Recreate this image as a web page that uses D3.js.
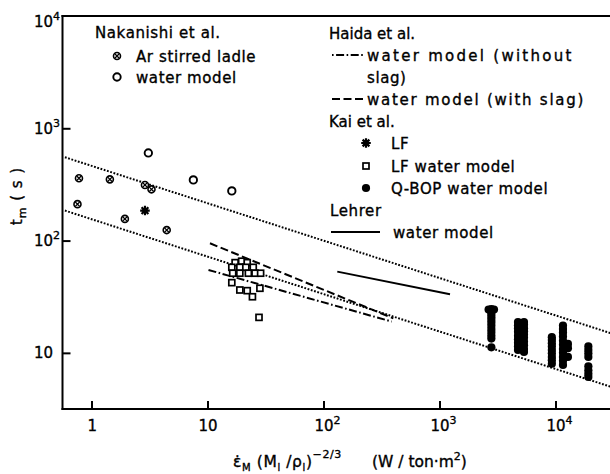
<!DOCTYPE html>
<html>
<head>
<meta charset="utf-8">
<script src="https://cdn.jsdelivr.net/npm/d3@7"></script>
<style>
  html, body { margin: 0; padding: 0; background: #fff; }
  svg { display: block; font-family: "DejaVu Sans", sans-serif; }
  .txt { fill: #000; stroke: #000; stroke-width: 0.35px; }
</style>
</head>
<body>
<svg id="chart" width="610" height="474"></svg>
<script>
// ---- data: [specific stirring power, mixing time t_m (s)] ----
// Nakanishi et al.
const arStirredLadle = [[0.78, 359], [1.44, 351], [2.89, 313], [3.29, 286], [0.757, 211], [1.94, 156], [4.45, 124]];
const nakanishiWater = [[3.09, 603], [7.55, 347], [16.2, 277]];
// Kai et al.
const kaiLF = [[2.89, 185]];
const kaiLFWater = [
  [17.3, 63.6], [19.7, 65.5], [22.0, 63.6],
  [16.2, 57.8], [19.0, 57.8], [21.4, 57.8], [24.8, 57.8],
  [16.5, 51.2], [19.0, 51.2], [22.5, 51.2], [25.7, 51.2], [28.7, 51.2],
  [16.2, 42.2], [19.0, 36.3], [22.0, 35.8], [28.3, 37.6], [24.4, 31.6],
  [27.8, 20.7]
];
const kaiQBOP = [
  [2650, 24.3], [2950, 24.3],
  [2800, 24.5], [2800, 23.2], [2800, 22.0], [2800, 20.8], [2800, 19.6], [2800, 18.5], [2800, 17.4],
  [2800, 16.3], [2800, 15.3], [2800, 14.3], [2800, 13.4], [2800, 11.2],
  [4750, 18.8], [4750, 17.6], [4750, 16.5], [4750, 15.4], [4750, 14.2], [4750, 13.2], [4750, 12.3],
  [4750, 11.4], [4750, 10.6],
  [5350, 18.8], [5350, 17.8], [5350, 16.6], [5350, 15.6], [5350, 14.6], [5350, 13.6], [5350, 12.6],
  [5350, 11.7], [5350, 10.8], [5350, 10.2],
  [9300, 13.8], [9300, 13.0], [9300, 12.2], [9300, 11.4], [9300, 10.6], [9300, 9.9], [9300, 9.2],
  [9300, 8.6], [9300, 8.0],
  [11600, 17.5], [11600, 16.3], [11600, 15.2], [11600, 14.0], [11600, 12.8], [11600, 11.8],
  [11600, 10.8], [11600, 10.0], [11600, 9.2], [11600, 8.5], [11600, 7.8],
  [12800, 12.0], [12800, 11.0], [12800, 9.2],
  [19200, 11.4], [19200, 10.6], [19200, 9.9], [19200, 9.2], [19200, 7.6], [19200, 7.0], [19200, 6.5], [19200, 6.1]
];
// Nakanishi et al. scatter band
const bandUpper = [[0.59, 552], [31600, 14.7]];
const bandLower = [[0.59, 185], [31600, 4.9]];
// Haida et al.
const haidaNoSlag = [[10.2, 54.7], [387, 19.0]];
const haidaSlag = [[10.5, 94.6], [400, 20.3]];
// Lehrer
const lehrerWater = [[131.5, 52.9], [1232, 33.2]];

// ---- axes ----
const xTickValues = [1, 10, 100, 1000, 10000];
const yTickValues = [10, 100, 1000, 10000];

const svg = d3.select("#chart");
const x = d3.scaleLog().domain([Math.pow(10, -0.25), Math.pow(10, 4.5)]).range([62.5, 613.5]);
const y = d3.scaleLog().domain([Math.pow(10, 0.5), 1e4]).range([409, 16]);

const lineGen = d3.line().x(d => x(d[0])).y(d => y(d[1]));

// frame
const frame = svg.append("g").attr("stroke", "#000").attr("stroke-width", 2).attr("fill", "none");
frame.append("line").attr("x1", x.range()[0]).attr("x2", x.range()[0]).attr("y1", y(1e4) - 1).attr("y2", y.range()[0] + 1);
frame.append("line").attr("x1", x.range()[0] - 1).attr("x2", 610).attr("y1", y.range()[0]).attr("y2", y.range()[0]);
frame.append("line").attr("x1", x.range()[0] - 1).attr("x2", 610).attr("y1", y(1e4)).attr("y2", y(1e4));

// x axis ticks (inward)
const xAxis = d3.axisBottom(x).tickValues(xTickValues).tickSize(-8).tickSizeOuter(0).tickFormat("");
const gx = svg.append("g").attr("transform", `translate(0,${y.range()[0]})`).call(xAxis);
gx.select(".domain").remove();
gx.selectAll(".tick line").attr("stroke", "#000").attr("stroke-width", 2);

// y axis ticks (inward)
const yAxis = d3.axisLeft(y).tickValues(yTickValues.filter(v => v < 1e4)).tickSize(-8).tickSizeOuter(0).tickFormat("");
const gy = svg.append("g").attr("transform", `translate(${x.range()[0]},0)`).call(yAxis);
gy.select(".domain").remove();
gy.selectAll(".tick line").attr("stroke", "#000").attr("stroke-width", 2);

// tick labels with superscript exponents
const tickFont = 15;
function powerLabel(sel, v) {
  const e = Math.round(Math.log10(v));
  if (e === 0) { sel.text("1"); return; }
  sel.append("tspan").text("10");
  if (e > 1) sel.append("tspan").attr("dy", -7).attr("font-size", 11).text(String(e));
}
xTickValues.forEach(v => {
  const t = svg.append("text").attr("class", "txt").attr("font-size", tickFont).attr("y", 431)
    .attr("x", x(v) - 9 + (v === 1 ? 5 : 0)).attr("text-anchor", "start");
  powerLabel(t, v);
});
yTickValues.forEach(v => {
  const t = svg.append("text").attr("class", "txt").attr("font-size", tickFont)
    .attr("y", y(v) + 5.5 + (v === 1e4 ? 5 : 0))
    .attr("x", 34).attr("text-anchor", "start");
  powerLabel(t, v);
});

// axis titles
const yTitle = svg.append("text").attr("class", "txt").attr("font-size", 15).attr("letter-spacing", 1)
  .attr("transform", "translate(22,196) rotate(-90)").attr("text-anchor", "middle");
yTitle.append("tspan").text("t");
yTitle.append("tspan").attr("font-size", 11).attr("dy", 4).text("m");
yTitle.append("tspan").attr("dy", -4).text("  ( s )");

const xTitle = svg.append("text").attr("class", "txt").attr("font-size", 15.5).attr("letter-spacing", 0.6)
  .attr("x", 233).attr("y", 467);
xTitle.append("tspan").text("\u03B5\u0307");
xTitle.append("tspan").attr("font-size", 10).attr("dy", 4).text("M");
xTitle.append("tspan").attr("dy", -4).text(" (M");
xTitle.append("tspan").attr("font-size", 10).attr("dy", 4).text("l");
xTitle.append("tspan").attr("dy", -4).text(" /\u03C1");
xTitle.append("tspan").attr("font-size", 10).attr("dy", 4).text("l");
xTitle.append("tspan").attr("dy", -4).text(")");
xTitle.append("tspan").attr("font-size", 11).attr("dy", -9).text("\u22122/3");
xTitle.append("tspan").attr("dy", 9).attr("x", 372).attr("letter-spacing", 0).text("(W / ton\u00B7m");
xTitle.append("tspan").attr("font-size", 11).attr("dy", -7).attr("letter-spacing", 0).text("2");
xTitle.append("tspan").attr("dy", 7).attr("letter-spacing", 0).text(")");

// ---- line styles ----
const styles = {
  dotted: { dash: "1.8,1.6", width: 2 },
  dashed: { dash: "8,3.5", width: 2 },
  dashdot: { dash: "8,2.5,1.6,2.5", width: 2 },
  solid: { dash: null, width: 2 }
};

svg.append("clipPath").attr("id", "plot-clip").append("rect")
  .attr("x", x.range()[0]).attr("y", y(1e4)).attr("width", 610 - x.range()[0]).attr("height", y.range()[0] - y(1e4));

const lines = svg.append("g").attr("clip-path", "url(#plot-clip)");
function drawClippedLine(data, st) {
  lines.append("path").datum(data).attr("d", lineGen).attr("fill", "none")
    .attr("stroke", "#000").attr("stroke-width", st.width).attr("stroke-dasharray", st.dash);
}
drawClippedLine(bandUpper, styles.dotted);
drawClippedLine(bandLower, styles.dotted);
drawClippedLine(haidaSlag, styles.dashed);
drawClippedLine(haidaNoSlag, styles.dashdot);
drawClippedLine(lehrerWater, styles.solid);

// ---- marker shapes ----
function crossedCircle(g, cx, cy) {
  g.append("circle").attr("cx", cx).attr("cy", cy).attr("r", 3.5).attr("fill", "#fff").attr("stroke", "#000").attr("stroke-width", 1.6);
  const d = 2.2;
  g.append("path").attr("d", `M${cx - d},${cy - d}L${cx + d},${cy + d}M${cx - d},${cy + d}L${cx + d},${cy - d}`)
    .attr("stroke", "#000").attr("stroke-width", 1.3);
}
function openCircle(g, cx, cy) {
  g.append("circle").attr("cx", cx).attr("cy", cy).attr("r", 3.7).attr("fill", "#fff").attr("stroke", "#000").attr("stroke-width", 1.9);
}
function star(g, cx, cy) {
  const r = 4.8;
  let p = "";
  for (let i = 0; i < 4; i++) {
    const a = i * Math.PI / 4;
    p += `M${cx - r * Math.cos(a)},${cy - r * Math.sin(a)}L${cx + r * Math.cos(a)},${cy + r * Math.sin(a)}`;
  }
  g.append("path").attr("d", p).attr("stroke", "#000").attr("stroke-width", 2.2);
  g.append("circle").attr("cx", cx).attr("cy", cy).attr("r", 2.4).attr("fill", "#000");
}
function openSquare(g, cx, cy) {
  g.append("rect").attr("x", cx - 3).attr("y", cy - 3).attr("width", 6).attr("height", 6)
    .attr("fill", "#fff").attr("stroke", "#000").attr("stroke-width", 1.7);
}
function filledDot(g, cx, cy) {
  g.append("circle").attr("cx", cx).attr("cy", cy).attr("r", 4.1).attr("fill", "#000");
}

const pts = svg.append("g");
function plotSeries(data, shape) {
  data.forEach(d => shape(pts, x(d[0]), y(d[1])));
}
plotSeries(kaiQBOP, filledDot);
plotSeries(kaiLFWater, openSquare);
plotSeries(arStirredLadle, crossedCircle);
plotSeries(nakanishiWater, openCircle);
plotSeries(kaiLF, star);

// ---- legend ----
const lg = svg.append("g").attr("font-size", 15).attr("letter-spacing", 0.6);
function lgText(tx, cy, s, width, spacing) {
  const t = lg.append("text").attr("class", "txt").attr("x", tx).attr("y", cy + 5.5)
    .attr("xml:space", "preserve").text(s);
  if (width) t.attr("textLength", width).attr("lengthAdjust", "spacing");
  if (spacing !== undefined) t.attr("letter-spacing", spacing);
}
function lgLine(x1, x2, ly, st) {
  lg.append("line").attr("x1", x1).attr("x2", x2).attr("y1", ly).attr("y2", ly)
    .attr("stroke", "#000").attr("stroke-width", st.width).attr("stroke-dasharray", st.dash);
}

lgText(95, 32, "Nakanishi et al.");
crossedCircle(lg, 117, 56); lgText(136, 56, "Ar stirred ladle");
openCircle(lg, 117, 77); lgText(136, 77, "water model");

lgText(329, 33, "Haida et al.", null, 0);
lgLine(332, 363, 55, { dash: "1.6,2.5,8,2.5", width: 2 }); lgText(367, 55, "water model (without", 205);
lgText(367, 77, "slag)");
lgLine(332, 366, 99, styles.dashed); lgText(367, 99, "water model (with slag)", 217);
lgText(329, 121, "Kai et al.", null, 0);
star(lg, 366, 143); lgText(391, 143, "LF");
openSquare(lg, 366, 166); lgText(391, 166, "LF water model");
filledDot(lg, 366, 188); lgText(391, 188, "Q-BOP water model");
lgText(330, 210, "Lehrer");
lgLine(331, 380, 232, styles.solid); lgText(393, 232, "water model");
</script>
</body>
</html>
